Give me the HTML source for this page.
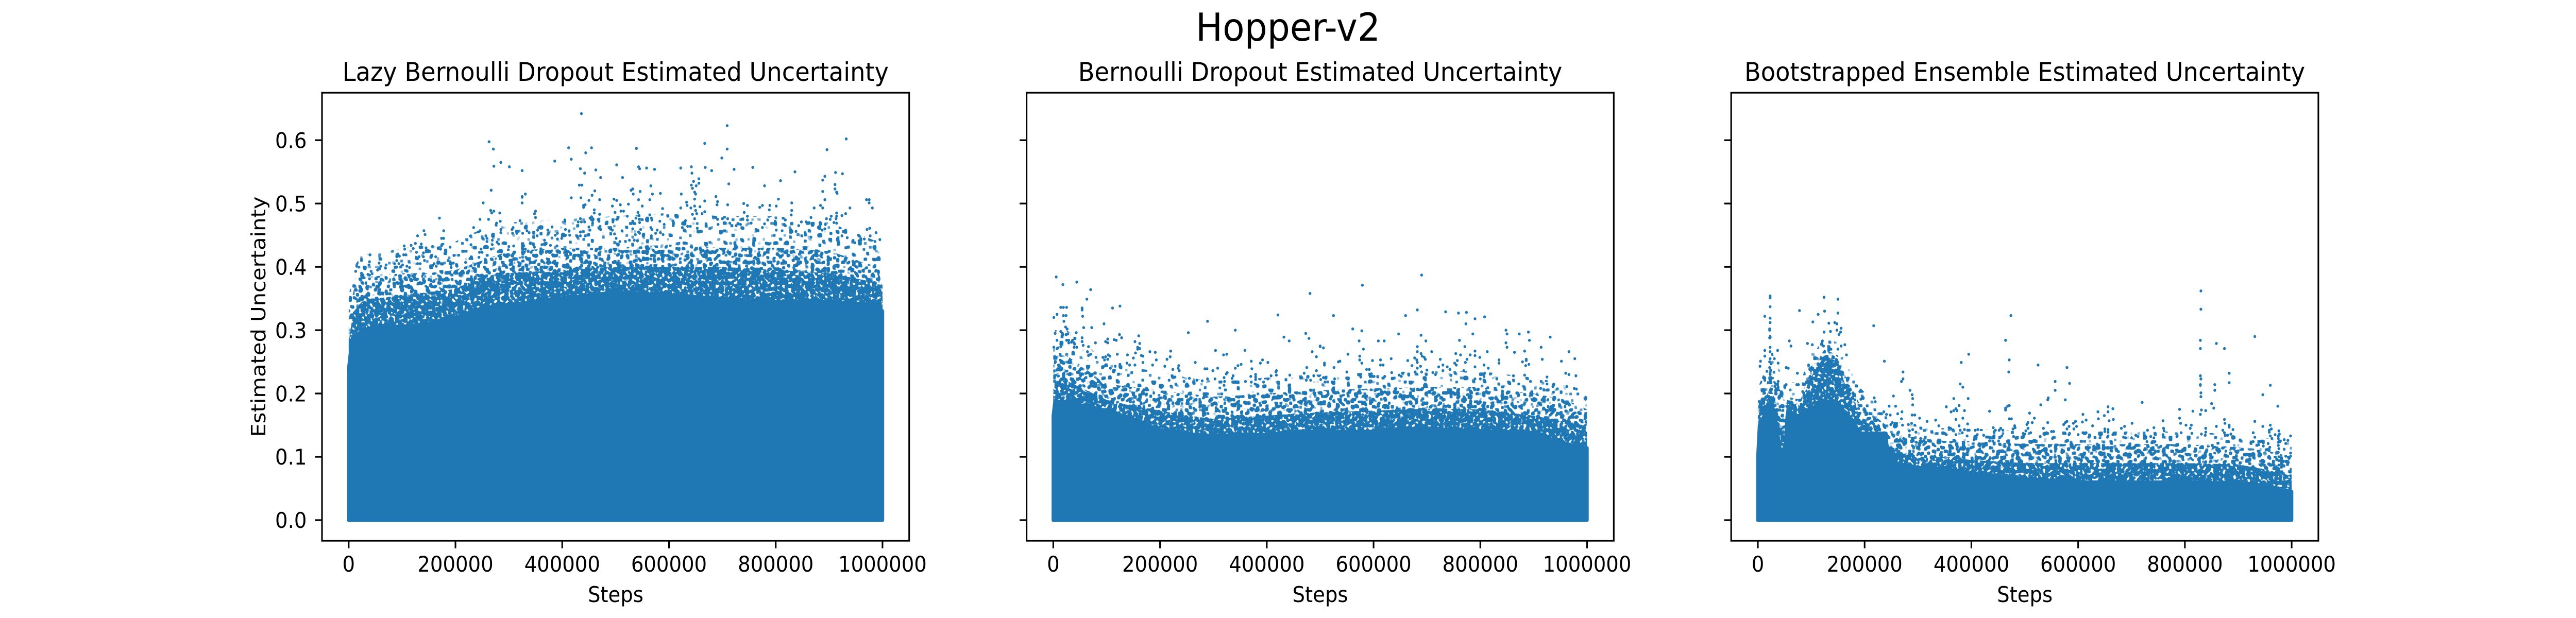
<!DOCTYPE html>
<html lang="en">
<head>
<meta charset="utf-8">
<title>Hopper-v2 Estimated Uncertainty</title>
<style>
html,body{margin:0;padding:0;background:#fff;width:100%;height:100%;overflow:hidden;}
svg{display:block;width:100vw;height:100vh;}
text{font-family:"DejaVu Sans","Liberation Sans",sans-serif;fill:#000;}
</style>
</head>
<body>
<svg id="chart" xmlns="http://www.w3.org/2000/svg" viewBox="0 0 5400 1200" preserveAspectRatio="none">
  <defs>
    <!-- Speckle texture for the over-plotted bands: visual grain only, carries no data values -->
    <filter id="speck-dense" color-interpolation-filters="sRGB">
      <feTurbulence type="fractalNoise" baseFrequency="0.17" numOctaves="1" seed="3" result="n"/>
      <feColorMatrix in="n" type="matrix" values="0 0 0 0 0  0 0 0 0 0  0 0 0 0 0  20 0 0 0 -8" result="m"/>
      <feComposite in="SourceGraphic" in2="m" operator="in"/>
    </filter>
    <filter id="speck-sparse" color-interpolation-filters="sRGB">
      <feTurbulence type="fractalNoise" baseFrequency="0.15" numOctaves="1" seed="11" result="n"/>
      <feColorMatrix in="n" type="matrix" values="0 0 0 0 0  0 0 0 0 0  0 0 0 0 0  20 0 0 0 -11.4" result="m"/>
      <feMorphology in="m" operator="dilate" radius="1" result="d"/>
      <feComposite in="SourceGraphic" in2="d" operator="in"/>
    </filter>
    <filter id="speck-faint" color-interpolation-filters="sRGB">
      <feTurbulence type="fractalNoise" baseFrequency="0.13" numOctaves="1" seed="23" result="n"/>
      <feColorMatrix in="n" type="matrix" values="0 0 0 0 0  0 0 0 0 0  0 0 0 0 0  20 0 0 0 -13.4" result="m"/>
      <feMorphology in="m" operator="dilate" radius="1.5" result="d"/>
      <feComposite in="SourceGraphic" in2="d" operator="in"/>
    </filter>
  </defs>
  <rect x="0" y="0" width="5400" height="1200" fill="#ffffff"/>
  <text x="2700" y="79" font-size="75" text-anchor="middle">Hopper-v2</text>
  <text x="1290.5" y="157" font-size="50" text-anchor="middle">Lazy Bernoulli Dropout Estimated Uncertainty</text>
  <text x="2767.5" y="157" font-size="50" text-anchor="middle">Bernoulli Dropout Estimated Uncertainty</text>
  <text x="4244.5" y="157" font-size="50" text-anchor="middle">Bootstrapped Ensemble Estimated Uncertainty</text>
  <text transform="translate(556,615) rotate(-90)" font-size="41.67" text-anchor="middle">Estimated Uncertainty</text>
  <text x="1290.5" y="1169" font-size="41.67" text-anchor="middle">Steps</text>
  <text x="2767.5" y="1169" font-size="41.67" text-anchor="middle">Steps</text>
  <text x="4244.5" y="1169" font-size="41.67" text-anchor="middle">Steps</text>
  <g id="panels"></g>
</svg>
<script>
// Tick values and labels (steps in thousands on the x axis)
const xTickValues = [0,200,400,600,800,1000];
const xTickLabels = ['0','200000','400000','600000','800000','1000000'];
const yTickValues = [0,0.1,0.2,0.3,0.4,0.5,0.6];
const yTickLabels = ['0.0','0.1','0.2','0.3','0.4','0.5','0.6'];

// Lazy Bernoulli: upper edges of the saturated mass
const lazyEdgeSteps = [0,3,10,25,50,100,150,200,250,300,400,500,600,700,800,900,990,1000];
const lazySolidEdge = [.24,.262,.285,.30,.305,.305,.31,.32,.335,.34,.35,.36,.355,.35,.345,.345,.34,.33];
const lazyDenseEdge = [.28,.30,.33,.345,.35,.355,.36,.365,.385,.39,.395,.40,.40,.40,.395,.39,.375,.36];
const lazySparseEdge = [.32,.34,.365,.385,.385,.39,.39,.395,.41,.425,.43,.43,.435,.43,.43,.425,.40,.37];
const lazyFaintEdge = [.35,.37,.40,.42,.42,.43,.435,.44,.46,.47,.475,.48,.485,.48,.48,.47,.44,.40];
// Lazy Bernoulli: individually legible points [step (k), uncertainty]
const lazyPoints = [[263,.5975],[271,.586],[272,.559],[285,.565],[301,.558],[325,.552],[386,.567],[412,.588],[417,.570],[436,.642],[444,.580],[455,.588],[434,.555],[442,.548],[432,.529],[437,.529],[463,.553],[472,.541],[461,.520],[456,.513],[417,.509],[435,.509],[450,.505],[470,.506],[443,.498],[440,.497],[440,.494],[267,.521],[252,.501],[325,.511],[325,.510],[331,.515],[325,.501],[266,.489],[268,.485],[272,.488],[283,.485],[350,.488],[348,.484],[350,.478],[170,.477],[246,.475],[262,.475],[284,.472],[277,.469],[276,.466],[321,.473],[405,.474],[405,.472],[430,.471],[436,.471],[442,.471],[434,.476],[452,.477],[455,.479],[458,.475],[457,.473],[457,.469],[460,.490],[460,.485],[470,.483],[234,.462],[246,.457],[285,.459],[285,.454],[141,.457],[143,.451],[129,.449],[178,.457],[174,.445],[178,.445],[308,.462],[306,.459],[315,.453],[307,.453],[317,.456],[326,.453],[334,.457],[338,.454],[354,.458],[353,.449],[381,.463],[373,.458],[406,.459],[413,.457],[387,.450],[391,.453],[391,.444],[399,.445],[406,.45],[414,.45],[434,.455],[434,.449],[443,.449],[450,.463],[452,.458],[469,.472],[471,.464],[472,.459],[104,.433],[105,.428],[117,.434],[121,.429],[125,.437],[136,.436],[145,.430],[157,.432],[174,.434],[172,.428],[190,.431],[180,.421],[197,.418],[229,.435],[40,.419],[24,.412],[24,.410],[39,.408],[15,.401],[38,.403],[30,.399],[13,.393],[57,.406],[70,.403],[60,.401],[69,.398],[54,.395],[42,.393],[24,.39],[24,.386],[24,.382],[36,.388],[39,.387],[39,.381],[90,.416],[95,.417],[103,.419],[107,.419],[90,.410],[94,.405],[86,.405],[101,.403],[109,.401],[114,.399],[127,.423],[132,.416],[129,.413],[140,.422],[140,.416],[142,.410],[129,.405],[134,.405],[163,.416],[157,.402],[160,.405],[164,.401],[186,.410],[190,.408],[192,.404],[196,.406],[192,.399],[203,.401],[227,.413],[231,.413],[219,.407],[233,.398],[248,.428],[245,.423],[244,.415],[250,.423],[259,.445],[257,.449],[259,.440],[269,.442],[269,.435],[278,.439],[281,.436],[267,.428],[280,.424],[291,.419],[283,.416],[300,.432],[299,.427],[309,.433],[340,.437],[346,.435],[328,.433],[331,.428],[348,.431],[336,.425],[342,.423],[362,.435],[366,.436],[367,.442],[378,.434],[390,.433],[406,.427],[377,.424],[382,.419],[370,.423],[539,.587],[502,.561],[543,.558],[545,.555],[558,.556],[573,.554],[513,.541],[566,.528],[529,.521],[532,.523],[533,.515],[546,.519],[569,.515],[584,.516],[564,.506],[543,.506],[497,.507],[502,.505],[494,.496],[509,.498],[524,.499],[550,.496],[588,.492],[510,.488],[515,.488],[499,.486],[542,.486],[544,.481],[522,.480],[564,.482],[538,.477],[544,.475],[545,.470],[567,.477],[568,.474],[502,.475],[495,.471],[532,.472],[583,.472],[591,.467],[566,.462],[568,.459],[491,.462],[494,.458],[512,.457],[532,.460],[547,.459],[543,.455],[545,.453],[578,.458],[584,.454],[498,.452],[575,.453],[589,.451],[537,.451],[567,.449],[567,.446],[501,.445],[508,.440],[526,.442],[535,.442],[541,.441],[560,.441],[709,.623],[667,.595],[709,.586],[699,.572],[932,.602],[896,.585],[622,.556],[642,.558],[643,.548],[668,.557],[680,.552],[722,.554],[757,.557],[646,.535],[656,.539],[656,.532],[642,.529],[651,.528],[644,.524],[648,.518],[650,.515],[648,.507],[623,.515],[712,.531],[779,.528],[809,.536],[836,.550],[912,.549],[925,.547],[892,.543],[888,.537],[911,.530],[911,.523],[914,.518],[915,.516],[888,.519],[892,.506],[688,.511],[691,.503],[690,.498],[710,.498],[667,.504],[633,.502],[634,.497],[648,.496],[658,.495],[641,.493],[622,.493],[650,.489],[667,.487],[662,.484],[652,.484],[644,.483],[740,.500],[747,.497],[741,.486],[770,.494],[775,.497],[789,.497],[788,.490],[801,.496],[805,.507],[830,.501],[830,.489],[829,.482],[884,.497],[888,.493],[872,.493],[939,.493],[931,.484],[924,.481],[914,.485],[914,.480],[970,.506],[975,.506],[975,.501],[981,.493],[904,.480],[895,.476],[902,.475],[913,.476],[914,.469],[909,.470],[866,.478],[857,.471],[848,.471],[843,.465],[818,.474],[799,.472],[785,.474],[747,.480],[747,.474],[754,.469],[688,.478],[691,.475],[700,.476],[710,.476],[648,.476],[631,.473],[616,.479],[598,.480],[714,.469],[692,.467],[730,.468],[734,.467],[726,.465],[608,.465],[635,.464],[640,.464],[625,.462],[653,.461],[779,.468],[775,.462],[763,.459],[816,.467],[818,.465],[893,.467],[883,.470],[883,.461],[892,.460],[887,.458],[931,.458],[971,.459],[976,.461],[988,.454],[977,.449],[995,.443],[955,.450],[956,.441],[966,.444],[986,.440],[948,.438],[934,.446],[924,.449],[866,.447],[849,.449],[838,.456],[828,.457],[812,.457],[801,.458]];

// Bernoulli: upper edges of the saturated mass
const bernEdgeSteps = [0,3,25,50,100,150,200,250,300,350,400,450,500,600,700,800,900,960,1000];
const bernSolidEdge = [.165,.187,.187,.182,.173,.16,.141,.136,.133,.135,.135,.14,.14,.14,.144,.141,.138,.119,.114];
const bernDenseEdge = [.20,.22,.22,.21,.19,.18,.173,.165,.16,.163,.165,.168,.17,.173,.176,.175,.165,.155,.149];
const bernSparseEdge = [.24,.26,.26,.245,.215,.21,.205,.20,.195,.197,.20,.203,.205,.208,.21,.21,.20,.19,.175];
const bernFaintEdge = [.27,.30,.30,.285,.25,.24,.235,.225,.22,.222,.225,.228,.23,.233,.235,.235,.225,.215,.195];
// Bernoulli: individually legible points
const bernPoints = [[5.5,.384],[18,.372],[44,.376],[70,.364],[63,.349],[14,.336],[19,.336],[25,.336],[54,.335],[54,.332],[1,.320],[7,.325],[19,.323],[24,.323],[55,.322],[20,.314],[111,.335],[125,.338],[95,.310],[57,.304],[72,.304],[23,.305],[26,.302],[3.5,.295],[14,.298],[17,.295],[18,.293],[24,.293],[27,.294],[43,.296],[54,.288],[124,.293],[128,.288],[160,.291],[153,.282],[162,.279],[102,.286],[98,.282],[102,.280],[114,.285],[118,.284],[79,.280],[7,.284],[25,.284],[29,.284],[29,.280],[36,.284],[34,.281],[39,.280],[40,.278],[54,.282],[56,.276],[14,.278],[14,.274],[1,.273],[7,.271],[9,.272],[39,.273],[44,.273],[66,.274],[64,.266],[158,.273],[162,.271],[158,.270],[154,.264],[181,.266],[191,.265],[220,.267],[219,.258],[213,.254],[193,.253],[253,.296],[289,.314],[341,.300],[304,.268],[319,.261],[325,.262],[359,.268],[421,.324],[481,.358],[432,.289],[442,.283],[473,.295],[479,.287],[500,.274],[500,.275],[506,.272],[485,.266],[493,.258],[475,.241],[508,.248],[508,.245],[493,.236],[488,.228],[470,.232],[371,.251],[392,.253],[388,.248],[402,.249],[372,.239],[346,.244],[341,.240],[352,.246],[266,.249],[308,.240],[284,.239],[288,.239],[299,.236],[326,.233],[324,.231],[418,.236],[417,.234],[418,.229],[408,.228],[379,.230],[379,.226],[370,.227],[337,.228],[335,.224],[320,.225],[209,.243],[186,.245],[224,.238],[235,.244],[234,.240],[236,.236],[228,.226],[168,.249],[165,.260],[168,.259],[150,.256],[139,.261],[120,.262],[80,.257],[93,.257],[98,.258],[103,.261],[106,.259],[102,.254],[96,.253],[66,.260],[70,.262],[138,.248],[143,.245],[153,.245],[116,.243],[107,.240],[125,.246],[443,.229],[474,.221],[482,.221],[501,.222],[506,.225],[509,.218],[360,.219],[371,.218],[394,.218],[402,.223],[379,.222],[378,.215],[279,.220],[269,.221],[289,.223],[303,.223],[245,.219],[255,.224],[217,.221],[321,.219],[320,.213],[690,.387],[579,.371],[525,.323],[682,.332],[660,.323],[735,.329],[759,.327],[774,.328],[790,.318],[808,.321],[773,.310],[561,.302],[578,.299],[647,.294],[689,.292],[786,.294],[848,.300],[850,.294],[873,.294],[890,.297],[892,.284],[931,.289],[573,.283],[609,.283],[620,.283],[698,.283],[761,.284],[848,.280],[850,.273],[914,.273],[682,.274],[771,.274],[581,.270],[552,.262],[574,.259],[574,.253],[578,.248],[534,.250],[537,.251],[526,.241],[527,.223],[633,.255],[598,.252],[613,.253],[613,.245],[618,.245],[664,.252],[677,.256],[681,.253],[682,.249],[682,.266],[689,.263],[691,.259],[695,.257],[697,.254],[672,.244],[688,.243],[682,.240],[709,.266],[725,.254],[730,.245],[738,.242],[722,.242],[743,.238],[730,.236],[754,.263],[763,.261],[781,.261],[790,.267],[790,.260],[799,.257],[813,.266],[775,.254],[757,.252],[772,.249],[752,.248],[755,.245],[769,.236],[790,.242],[807,.245],[815,.240],[835,.253],[835,.248],[864,.265],[883,.267],[879,.250],[886,.254],[886,.252],[891,.246],[885,.244],[916,.254],[952,.251],[966,.266],[977,.255],[960,.232],[966,.230],[979,.228],[925,.226],[883,.229],[862,.228],[550,.234],[553,.224],[587,.238],[592,.238],[596,.231],[598,.227],[601,.227],[576,.226],[621,.227],[634,.233],[648,.229],[654,.232],[652,.227],[666,.229],[678,.234],[690,.234],[699,.230],[700,.237],[711,.233],[716,.230],[808,.232],[807,.227],[790,.223],[800,.223],[831,.223],[914,.219],[894,.219],[925,.215],[853,.218],[872,.215],[936,.211],[937,.202],[962,.211],[976,.208],[980,.207],[913,.208],[997,.191]];

// Bootstrapped ensemble: upper edges of the saturated mass
const bootEdgeSteps = [0,3,15,24,32,42,50,55,80,95,110,125,150,165,180,190,240,242,260,300,350,400,500,600,700,800,900,950,1000];
const bootSolidEdge = [.10,.15,.17,.19,.165,.11,.10,.165,.165,.175,.18,.19,.18,.17,.155,.137,.137,.115,.09,.083,.08,.075,.065,.06,.06,.06,.058,.055,.045];
const bootDenseEdge = [.14,.18,.195,.21,.19,.15,.14,.19,.18,.22,.24,.26,.25,.21,.195,.16,.135,.118,.11,.098,.10,.095,.09,.09,.09,.09,.088,.08,.07];
const bootSparseEdge = [.175,.19,.21,.24,.22,.205,.19,.195,.19,.24,.25,.27,.26,.225,.20,.185,.15,.14,.135,.13,.125,.125,.12,.12,.12,.12,.115,.11,.10];
const bootFaintEdge = [.20,.215,.24,.28,.25,.235,.215,.22,.215,.26,.27,.29,.28,.25,.225,.21,.17,.16,.155,.15,.145,.145,.14,.14,.14,.14,.135,.13,.125];
// Bootstrapped ensemble: individually legible points
const bootPoints = [[23,.354],[23,.351],[23,.337],[13,.322],[23,.319],[23,.312],[22,.302],[22,.300],[23,.290],[22,.288],[23,.288],[23,.273],[23,.266],[13,.268],[37,.268],[13,.259],[31,.255],[23,.255],[5,.251],[22,.250],[25,.247],[38,.248],[4,.243],[22,.241],[24,.237],[17,.235],[23,.233],[23,.230],[13,.224],[13,.221],[24,.225],[38,.219],[38,.210],[59,.283],[62,.275],[78,.331],[124,.352],[150,.349],[125,.330],[150,.327],[113,.325],[103,.313],[133,.311],[144,.312],[148,.310],[136,.298],[148,.300],[156,.303],[155,.297],[124,.297],[152,.293],[93,.279],[102,.277],[121,.283],[123,.275],[163,.277],[156,.275],[137,.270],[150,.270],[166,.261],[217,.307],[237,.251],[474,.323],[464,.284],[471,.253],[470,.234],[395,.262],[381,.249],[272,.234],[272,.223],[269,.219],[379,.215],[384,.210],[394,.192],[367,.192],[285,.205],[289,.198],[290,.192],[290,.182],[254,.196],[218,.193],[220,.187],[193,.191],[197,.192],[191,.203],[178,.201],[169,.205],[182,.190],[74,.232],[53,.241],[57,.240],[73,.214],[76,.214],[53,.214],[95,.245],[98,.227],[103,.240],[84,.203],[93,.200],[88,.195],[246,.180],[258,.180],[236,.171],[241,.167],[248,.166],[262,.168],[270,.171],[269,.160],[289,.166],[294,.166],[303,.161],[317,.156],[333,.158],[339,.149],[353,.179],[362,.171],[367,.173],[371,.176],[373,.173],[377,.181],[387,.173],[384,.161],[371,.159],[393,.152],[377,.149],[434,.172],[464,.177],[464,.174],[468,.180],[471,.181],[471,.160],[475,.160],[509,.169],[518,.161],[506,.154],[504,.151],[514,.154],[481,.149],[478,.144],[482,.146],[441,.146],[445,.142],[455,.145],[459,.142],[452,.142],[506,.145],[497,.137],[500,.136],[511,.138],[502,.141],[379,.142],[387,.143],[393,.142],[396,.142],[407,.142],[412,.143],[383,.138],[411,.135],[361,.145],[358,.146],[353,.135],[371,.135],[457,.133],[479,.132],[392,.133],[405,.127],[423,.134],[434,.131],[434,.125],[440,.125],[451,.125],[277,.127],[266,.127],[273,.129],[296,.139],[284,.141],[290,.143],[294,.150],[284,.134],[305,.129],[297,.123],[249,.151],[252,.154],[257,.153],[260,.153],[271,.150],[282,.151],[288,.153],[211,.153],[217,.152],[220,.148],[226,.149],[210,.161],[198,.158],[201,.157],[198,.148],[210,.143],[830,.362],[830,.333],[829,.284],[829,.271],[859,.279],[874,.271],[931,.290],[525,.245],[579,.241],[557,.219],[584,.216],[557,.205],[544,.193],[543,.190],[576,.190],[530,.182],[720,.186],[829,.228],[830,.223],[829,.214],[829,.213],[830,.201],[830,.195],[883,.232],[883,.217],[856,.214],[856,.205],[960,.213],[946,.198],[974,.180],[850,.184],[854,.177],[790,.175],[815,.172],[831,.174],[839,.173],[829,.167],[790,.161],[656,.179],[665,.176],[656,.171],[637,.171],[649,.165],[638,.160],[658,.157],[666,.159],[609,.167],[615,.158],[608,.155],[595,.156],[591,.153],[597,.148],[592,.144],[583,.148],[579,.156],[576,.154],[573,.151],[579,.144],[543,.154],[535,.145],[627,.149],[874,.159],[875,.153],[883,.150],[883,.147],[871,.142],[874,.138],[890,.143],[880,.134],[886,.136],[859,.148],[839,.145],[839,.139],[831,.136],[838,.134],[813,.137],[792,.153],[802,.150],[812,.150],[810,.145],[793,.138],[785,.132],[759,.157],[742,.146],[760,.145],[761,.141],[730,.142],[759,.135],[701,.153],[687,.148],[681,.145],[931,.156],[946,.148],[928,.138],[931,.131],[960,.150],[962,.144],[958,.142],[958,.139],[969,.135],[960,.133],[963,.129],[976,.141],[977,.136],[975,.133],[998,.133],[986,.127],[993,.126],[928,.124],[975,.129],[975,.123],[975,.118],[976,.113],[975,.107],[976,.100],[976,.094],[976,.087],[989,.121],[986,.112],[998,.106],[998,.101],[989,.101],[947,.122],[956,.121],[938,.119],[947,.117],[959,.115],[952,.111],[700,.130],[689,.130],[685,.131],[708,.134],[712,.132],[736,.132],[742,.130],[729,.124],[774,.127],[769,.118],[744,.124],[742,.123],[650,.144],[656,.143],[650,.140],[656,.139],[665,.135],[656,.133],[655,.131],[641,.130],[620,.131],[609,.138],[615,.138],[600,.135],[584,.137],[583,.135],[541,.138],[537,.135],[554,.140],[550,.140],[529,.132],[552,.129]];

const NS = 'http://www.w3.org/2000/svg';
const BLUE = '#1f77b4';
const AXIS_WIDTH = 1230.9;
const AXIS_TOP = 180;
const AXIS_BOTTOM = 1050;
const X_MIN = -50, X_MAX = 1050;
const Y_MIN = -0.03253, Y_MAX = 0.67502;
const panelsRoot = document.getElementById('panels');

function xScale(left, step) {
  return left + (step - X_MIN) / (X_MAX - X_MIN) * AXIS_WIDTH;
}
function yScale(value) {
  return AXIS_BOTTOM - (value - Y_MIN) / (Y_MAX - Y_MIN) * (AXIS_BOTTOM - AXIS_TOP);
}
function areaPath(left, steps, edge) {
  let d = 'M' + xScale(left, steps[0]).toFixed(1) + ' ' + yScale(0).toFixed(1);
  for (let i = 0; i < steps.length; i++) {
    d += 'L' + xScale(left, steps[i]).toFixed(1) + ' ' + yScale(edge[i]).toFixed(1);
  }
  d += 'L' + xScale(left, steps[steps.length - 1]).toFixed(1) + ' ' + yScale(0).toFixed(1) + 'Z';
  return d;
}

function drawPanel(key, left, showYLabels, steps, solid, dense, sparse, faint, points) {
  const g = document.createElementNS(NS, 'g');
  
  
  panelsRoot.appendChild(g);

  const faintArea = document.createElementNS(NS, 'path');
  
  
  faintArea.setAttribute('d', areaPath(left, steps, faint));
  faintArea.setAttribute('fill', BLUE);
  faintArea.setAttribute('filter', 'url(#speck-faint)');
  g.appendChild(faintArea);

  const sparseArea = document.createElementNS(NS, 'path');
  
  
  sparseArea.setAttribute('d', areaPath(left, steps, sparse));
  sparseArea.setAttribute('fill', BLUE);
  sparseArea.setAttribute('filter', 'url(#speck-sparse)');
  g.appendChild(sparseArea);

  const denseArea = document.createElementNS(NS, 'path');
  
  
  denseArea.setAttribute('d', areaPath(left, steps, dense));
  denseArea.setAttribute('fill', BLUE);
  denseArea.setAttribute('filter', 'url(#speck-dense)');
  g.appendChild(denseArea);

  const solidArea = document.createElementNS(NS, 'path');
  
  
  solidArea.setAttribute('d', areaPath(left, steps, solid));
  solidArea.setAttribute('fill', BLUE);
  solidArea.setAttribute('stroke', BLUE);
  solidArea.setAttribute('stroke-width', '7');
  solidArea.setAttribute('stroke-linejoin', 'round');
  g.appendChild(solidArea);

  const dots = document.createElementNS(NS, 'g');
  
  
  dots.setAttribute('fill', BLUE);
  g.appendChild(dots);
  for (let i = 0; i < points.length; i++) {
    const c = document.createElementNS(NS, 'circle');
    
    
    c.setAttribute('cx', xScale(left, points[i][0]).toFixed(1));
    c.setAttribute('cy', yScale(points[i][1]).toFixed(1));
    c.setAttribute('r', '2.9');
    dots.appendChild(c);
  }

  const frame = document.createElementNS(NS, 'rect');
  
  
  frame.setAttribute('x', left);
  frame.setAttribute('y', AXIS_TOP);
  frame.setAttribute('width', AXIS_WIDTH);
  frame.setAttribute('height', AXIS_BOTTOM - AXIS_TOP);
  frame.setAttribute('fill', 'none');
  frame.setAttribute('stroke', '#000');
  frame.setAttribute('stroke-width', '3.33');
  g.appendChild(frame);

  for (let i = 0; i < xTickValues.length; i++) {
    const px = xScale(left, xTickValues[i]);
    const t = document.createElementNS(NS, 'line');
    
    
    t.setAttribute('x1', px);
    t.setAttribute('x2', px);
    t.setAttribute('y1', AXIS_BOTTOM);
    t.setAttribute('y2', AXIS_BOTTOM + 14.6);
    t.setAttribute('stroke', '#000');
    t.setAttribute('stroke-width', '3.33');
    g.appendChild(t);
    const lab = document.createElementNS(NS, 'text');
    
    
    lab.setAttribute('x', px);
    lab.setAttribute('y', 1110);
    lab.setAttribute('font-size', '41.67');
    lab.setAttribute('text-anchor', 'middle');
    lab.textContent = xTickLabels[i];
    g.appendChild(lab);
  }
  for (let i = 0; i < yTickValues.length; i++) {
    const py = yScale(yTickValues[i]);
    const t = document.createElementNS(NS, 'line');
    
    
    t.setAttribute('x1', left - 14.6);
    t.setAttribute('x2', left);
    t.setAttribute('y1', py);
    t.setAttribute('y2', py);
    t.setAttribute('stroke', '#000');
    t.setAttribute('stroke-width', '3.33');
    g.appendChild(t);
    if (showYLabels) {
      const lab = document.createElementNS(NS, 'text');
      
      
      lab.setAttribute('x', left - 32);
      lab.setAttribute('y', py + 15.2);
      lab.setAttribute('font-size', '41.67');
      lab.setAttribute('text-anchor', 'end');
      lab.textContent = yTickLabels[i];
      g.appendChild(lab);
    }
  }
}

drawPanel('lazy-bernoulli', 675, true, lazyEdgeSteps, lazySolidEdge, lazyDenseEdge, lazySparseEdge, lazyFaintEdge, lazyPoints);
drawPanel('bernoulli', 2152, false, bernEdgeSteps, bernSolidEdge, bernDenseEdge, bernSparseEdge, bernFaintEdge, bernPoints);
drawPanel('bootstrapped', 3629, false, bootEdgeSteps, bootSolidEdge, bootDenseEdge, bootSparseEdge, bootFaintEdge, bootPoints);
</script>
</body>
</html>
